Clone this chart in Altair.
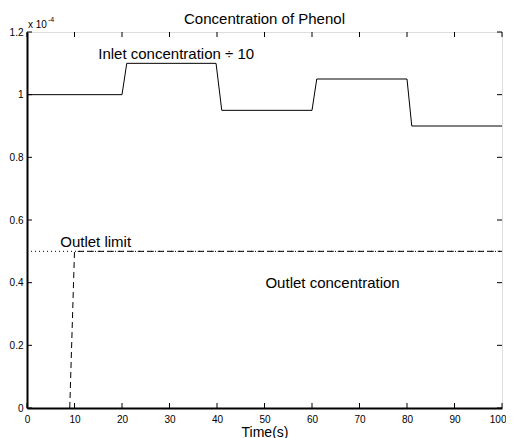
import altair as alt
import pandas as pd

# Inlet concentration / 10 (units of 1e-4)
inlet_t = [0, 20, 21, 39.8, 41, 60, 61, 80, 81, 100]
inlet_c = [1.0, 1.0, 1.1, 1.1, 0.95, 0.95, 1.05, 1.05, 0.9, 0.9]

# Outlet concentration
outlet_t = [9, 10, 100]
outlet_c = [0.0, 0.5, 0.5]

# Outlet limit
limit_t = [0, 100]
limit_c = [0.5, 0.5]

x_ticks = [0, 10, 20, 30, 40, 50, 60, 70, 80, 90, 100]
y_ticks = [0, 0.2, 0.4, 0.6, 0.8, 1.0, 1.2]

ann_text = ["Inlet concentration \u00f7 10", "Outlet limit", "Outlet concentration"]
ann_x = [15, 7, 50.2]
ann_y = [1.13, 0.53, 0.40]

W, H = 475, 376
FONT = "Liberation Sans"

inlet = pd.DataFrame({"t": inlet_t, "c": inlet_c})
outlet = pd.DataFrame({"t": outlet_t, "c": outlet_c})
limit = pd.DataFrame({"t": limit_t, "c": limit_c})
ann = pd.DataFrame({"label": ann_text, "t": ann_x, "c": ann_y})
xt = pd.DataFrame({"t": x_ticks})
yt = pd.DataFrame({"c": y_ticks})

xs = alt.Scale(domain=[0, 100], nice=False, zero=False)
ys = alt.Scale(domain=[0, 1.2], nice=False, zero=False)

xaxis = alt.Axis(values=x_ticks, tickSize=0, labelPadding=6, labelFontSize=10,
                 labelFont=FONT, labelColor="black", domainColor="black", domainWidth=2,
                 grid=False, title="Time(s)", titleFont=FONT, titleFontSize=14,
                 titleFontWeight="normal", titleColor="black", titlePadding=1, labelFlush=False,
                 labelAlign={"expr": "datum.value == 100 ? 'right' : 'center'"},
                 labelOffset={"expr": "datum.value == 100 ? 4 : 0"})
yaxis = alt.Axis(values=y_ticks, tickSize=0, labelPadding=4, labelFontSize=10,
                 labelFont=FONT, labelColor="black", domainColor="black", domainWidth=2,
                 grid=False, title=None, format="~g", labelFlush=False)

base_x = alt.X("t:Q", scale=xs, axis=xaxis)
base_y = alt.Y("c:Q", scale=ys, axis=yaxis)

inlet_line = alt.Chart(inlet).mark_line(color="black", strokeWidth=1).encode(
    x=base_x, y=base_y)
limit_line = alt.Chart(limit).mark_line(color="black", strokeWidth=1, strokeDash=[1, 3]).encode(
    x=alt.X("t:Q", scale=xs), y=alt.Y("c:Q", scale=ys))
outlet_line = alt.Chart(outlet).mark_line(color="black", strokeWidth=1, strokeDash=[6, 4]).encode(
    x=alt.X("t:Q", scale=xs), y=alt.Y("c:Q", scale=ys))

texts = alt.Chart(ann).mark_text(align="left", baseline="middle", font=FONT,
                                 fontSize=15, color="black").encode(
    x=alt.X("t:Q", scale=xs), y=alt.Y("c:Q", scale=ys), text="label:N")

tick_b = alt.Chart(xt).mark_rule(color="black", strokeWidth=1).encode(
    x=alt.X("t:Q", scale=xs), y=alt.value(H), y2=alt.value(H - 5))
tick_t = alt.Chart(xt).mark_rule(color="black", strokeWidth=1).encode(
    x=alt.X("t:Q", scale=xs), y=alt.value(0), y2=alt.value(5))
tick_l = alt.Chart(yt).mark_rule(color="black", strokeWidth=1).encode(
    y=alt.Y("c:Q", scale=ys), x=alt.value(0), x2=alt.value(5))
tick_r = alt.Chart(yt).mark_rule(color="black", strokeWidth=1).encode(
    y=alt.Y("c:Q", scale=ys), x=alt.value(W), x2=alt.value(W - 5))

exp_base = alt.Chart(pd.DataFrame({"s": ["x 10"]})).mark_text(
    align="left", baseline="middle", font=FONT, fontSize=10, color="black").encode(
    x=alt.value(1), y=alt.value(-7), text="s:N")
exp_sup = alt.Chart(pd.DataFrame({"s": ["-4"]})).mark_text(
    align="left", baseline="middle", font=FONT, fontSize=7, color="black").encode(
    x=alt.value(21), y=alt.value(-12), text="s:N")

title_txt = alt.Chart(pd.DataFrame({"s": ["Concentration of Phenol"]})).mark_text(
    align="center", baseline="alphabetic", font=FONT, fontSize=15, color="black").encode(
    x=alt.value(W / 2), y=alt.value(-8), text="s:N")

chart = alt.layer(
    inlet_line, limit_line, outlet_line, texts,
    tick_b, tick_t, tick_l, tick_r, exp_base, exp_sup, title_txt
).properties(
    width=W, height=H,
    autosize=alt.AutoSizeParams(type="none"),
    padding={"left": 19, "top": 24, "right": 4, "bottom": 30},
).configure_view(stroke="black", strokeWidth=1).configure(background="white")

chart.save("out.html", embed_options={"renderer": "svg", "actions": False})
